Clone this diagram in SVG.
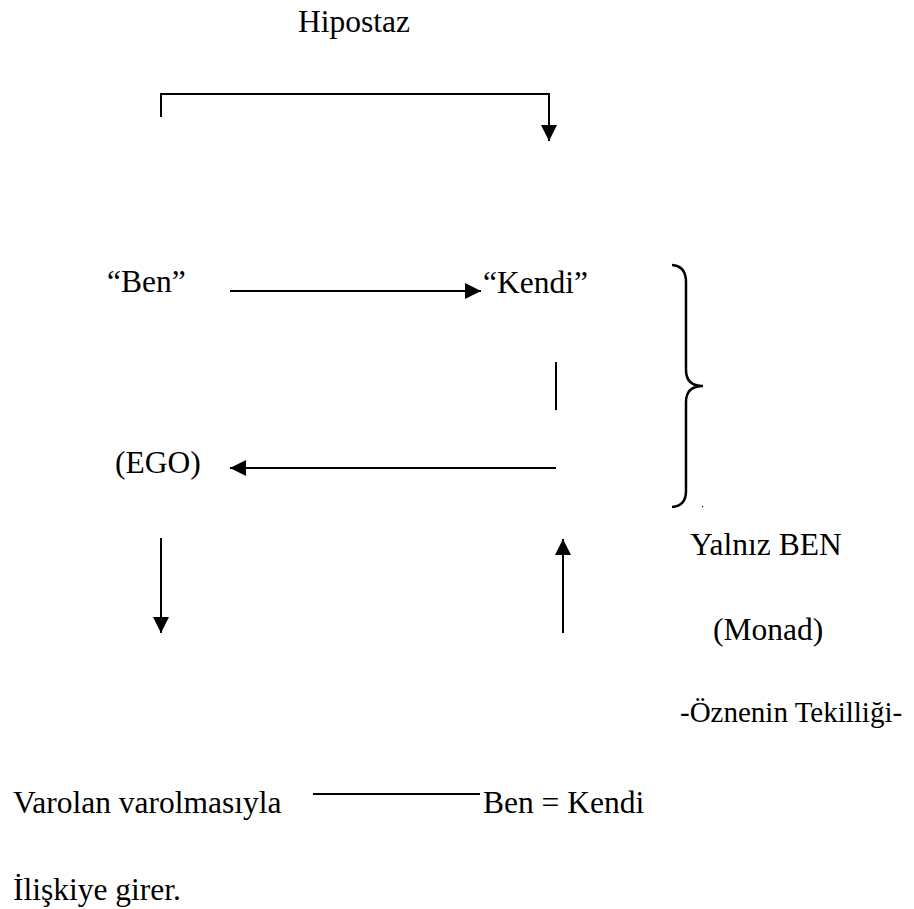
<svg xmlns="http://www.w3.org/2000/svg" width="914" height="909" viewBox="0 0 914 909">
<style>
text{font-family:"Liberation Serif","Times New Roman",serif;font-size:31.5px;fill:#000}
.c{fill:none;stroke:#000;stroke-width:2}
</style>
<defs>
<marker id="ah" viewBox="0 0 16 16" refX="16" refY="8" markerWidth="16" markerHeight="16" markerUnits="userSpaceOnUse" orient="auto"><path d="M0,0 L16,8 L0,16 z" fill="#000"/></marker>
</defs>
<rect width="914" height="909" fill="#fff"/>
<g id="hipostaz"><text x="298" y="32">Hipostaz</text></g>
<g id="ben"><text x="107" y="292">“Ben”</text></g>
<g id="kendi"><text x="483" y="293">“Kendi”</text></g>
<g id="ego"><text x="115" y="473">(EGO)</text></g>
<g id="yalniz"><text x="690" y="555">Yalnız BEN</text></g>
<g id="monad"><text x="713" y="640">(Monad)</text></g>
<g id="tekillik"><text x="680" y="722" style="font-size:29px">-Öznenin Tekilliği-</text></g>
<g id="varolan"><text x="13" y="813">Varolan varolmasıyla</text></g>
<g id="benkendi"><text x="483" y="813">Ben = Kendi</text></g>
<g id="iliski"><text x="13" y="900">İlişkiye girer.</text></g>
<g id="brace"><path class="c" style="stroke-width:2.5" d="M672,265 Q686,266 686,282 V370 Q686,386 703,386 Q686,386 686,402 V491 Q686,506 672,507"/><rect x="702" y="506" width="1.2" height="1.2" fill="#000"/></g>
<g id="connectors">
<path class="c" d="M161,117 V94 H549 V141" marker-end="url(#ah)"/>
<path class="c" d="M230,291 H481" marker-end="url(#ah)"/>
<path class="c" d="M556,362 V410"/>
<path class="c" d="M556,468 H230" marker-end="url(#ah)"/>
<path class="c" d="M161,538 V633" marker-end="url(#ah)"/>
<path class="c" d="M563,633 V539" marker-end="url(#ah)"/>
<path class="c" d="M313,794 H480"/>
</g>
</svg>
